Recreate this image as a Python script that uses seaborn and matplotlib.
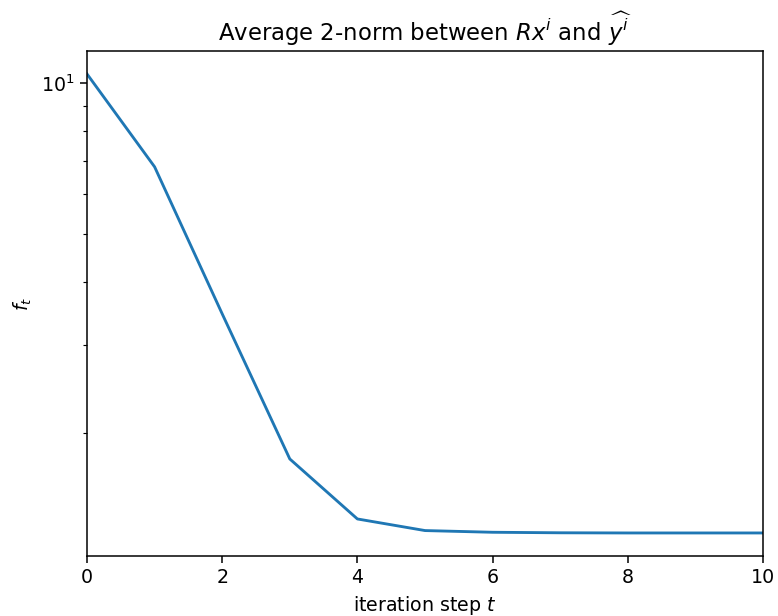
import matplotlib
matplotlib.use("Agg")
import matplotlib.pyplot as plt
from matplotlib.ticker import NullFormatter
import numpy as np
import pandas as pd
import seaborn as sns

# Iteration steps and the average 2-norm at each step
steps = [0, 1, 2, 3, 4, 5, 6, 7, 8, 9, 10]
avg_norm = [10.42, 6.80, 3.46, 1.776, 1.348, 1.278, 1.268, 1.265, 1.264, 1.264, 1.264]

df = pd.DataFrame({"t": steps, "f": avg_norm})

s = 1.14
plt.rcParams.update({
    "font.size": 10 * s,
    "axes.linewidth": 0.8 * s,
    "xtick.major.size": 3.5 * s,
    "ytick.major.size": 3.5 * s,
    "xtick.minor.size": 2 * s,
    "ytick.minor.size": 2 * s,
    "xtick.major.width": 0.8 * s,
    "ytick.major.width": 0.8 * s,
    "xtick.minor.width": 0.6 * s,
    "ytick.minor.width": 0.6 * s,
})

fig = plt.figure(figsize=(778 / 120, 616 / 120), dpi=120)
ax = fig.add_axes([87 / 778, 1 - 556 / 616, (763 - 87) / 778, (556 - 51) / 616])

sns.lineplot(data=df, x="t", y="f", ax=ax, color="#1f77b4", linewidth=1.5 * s)

ax.set_yscale("log")
ax.set_xlim(0, 10)
ax.set_ylim(1.137, 11.58)
ax.yaxis.set_minor_formatter(NullFormatter())

ax.set_title(r"Average 2-norm between $Rx^i$ and $\widehat{y^i}$")
ax.set_xlabel(r"iteration step $t$")
ax.set_ylabel(r"$f_t$")

fig.savefig("out.png", dpi=120)
